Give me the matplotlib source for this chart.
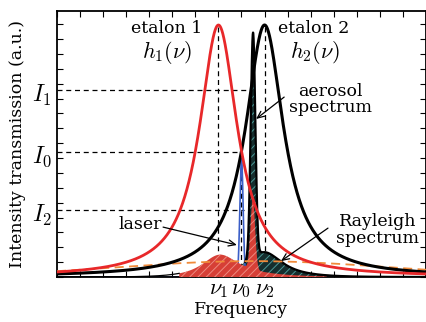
import numpy as np
import matplotlib
matplotlib.use("Agg")
import matplotlib.pyplot as plt
from matplotlib.ticker import MultipleLocator
from matplotlib.transforms import blended_transform_factory

plt.rcParams['font.family'] = 'DejaVu Serif'
plt.rcParams['mathtext.fontset'] = 'cm'
plt.rcParams['hatch.linewidth'] = 0.7

# frequencies (axis tick units)
nu_names = [r'$\nu_1$', r'$\nu_0$', r'$\nu_2$']
nu_values = [-1.0, 0.0, 1.0]
etalon_halfwidth = [1.0, 1.0]
# spectral components: centre, peak, width
aerosol = [0.5, 0.89, 0.1]
laser = [0.0, 0.47, 0.07]
rayleigh = [0.5, 0.063, 6.0]
rayleigh_filtered = [0.5, 0.10, 3.0]
fill_halfspan = 3.2
# intensity levels on the y axis
I_names = [r'$I_1$', r'$I_0$', r'$I_2$']
I_levels = [0.742, 0.496, 0.266]
I_ends = [0.28, 0.0, 0.1]

nu1, nu0, nu2 = nu_values
x = np.linspace(-8, 8, 4001)


def lorentz(c, w):
    return 1.0 / (1.0 + ((x - c) / w) ** 2)


def gauss(c, a, s):
    return a * np.exp(-(x - c) ** 2 / (2 * s ** 2))


h1 = lorentz(nu1, etalon_halfwidth[0])
h2 = lorentz(nu2, etalon_halfwidth[1])
A = gauss(*aerosol)
L = gauss(*laser)
R = gauss(*rayleigh)
Rf = gauss(*rayleigh_filtered)
win = np.abs(x - aerosol[0]) <= fill_halfspan

teal_top = h2 * Rf + A
red_top = h1 * (Rf + A)

fig = plt.figure(figsize=(4.27, 3.22), dpi=100)
ax = fig.add_axes([57 / 427, 45 / 322, 369 / 427, 266 / 322])

# guide lines
dash = dict(color='k', lw=0.9, ls=(0, (4, 3)), zorder=1)
ax.plot([nu1, nu1], [0, 1], **dash)
ax.plot([nu2, nu2], [0, 1], **dash)
ax.plot([nu0, nu0], [0, I_levels[1]], **dash)
for lev, xe in zip(I_levels, I_ends):
    ax.plot([-8, xe], [lev, lev], **dash)

ax.fill_between(x, 0, teal_top, where=win, facecolor='#152e2e', edgecolor='#4a9896',
                hatch='////', lw=0, zorder=2)
ax.plot(x, L, color='#3b5fc8', lw=1.2, zorder=2.5)
ax.fill_between(x, 0, red_top, where=win, facecolor='#d63f36', edgecolor='#ee8a80',
                hatch='////', lw=0, zorder=3)
left = x < aerosol[0] - fill_halfspan
ax.plot(x[left], red_top[left], color='k', lw=0.9, zorder=4)
right = x > aerosol[0] - 0.35
ax.plot(x[right], teal_top[right], color='k', lw=1.6, zorder=4)

ax.plot(x, R, color='#f08a3a', lw=1.3, ls=(0, (5, 3)), zorder=5)
ax.plot(x, h2, color='k', lw=2.2, zorder=6)
ax.plot(x, h1, color='#e8282a', lw=2.0, zorder=6.5)

# labels
ax.text(-3.23, 0.988, 'etalon 1', ha='center', va='center', fontsize=12.5)
ax.text(-3.23, 0.89, r'$h_1(\nu)$', ha='center', va='center', fontsize=16)
ax.text(3.14, 0.988, 'etalon 2', ha='center', va='center', fontsize=12.5)
ax.text(3.2, 0.89, r'$h_2(\nu)$', ha='center', va='center', fontsize=16)
ax.text(3.84, 0.705, 'aerosol\nspectrum', ha='center', va='center', fontsize=12.5,
        linespacing=0.95)
ax.text(-4.4, 0.21, 'laser', ha='center', va='center', fontsize=12.5)
ax.text(5.9, 0.187, 'Rayleigh\nspectrum', ha='center', va='center', fontsize=12.5,
        linespacing=0.95)

arrow = dict(arrowstyle='->,head_length=0.5,head_width=0.22', lw=0.9, color='k',
             shrinkA=0, shrinkB=0)
ax.annotate('', xy=(0.63, 0.627), xytext=(1.85, 0.714), arrowprops=arrow, zorder=7)
ax.annotate('', xy=(-0.2, 0.127), xytext=(-3.4, 0.198), arrowprops=arrow, zorder=7)
ax.annotate('', xy=(1.71, 0.063), xytext=(3.75, 0.194), arrowprops=arrow, zorder=7)

trans = blended_transform_factory(ax.transAxes, ax.transData)
for name, lev in zip(I_names, I_levels):
    ax.text(-0.015, lev - 0.02, name, transform=trans, ha='right', va='center', fontsize=17)

ax.set_xlim(-8, 8)
ax.set_ylim(0, 266 / 252)
ticks = np.arange(-8, 9)
ax.set_xticks(ticks)
ax.set_xticklabels([nu_names[nu_values.index(t)] if t in nu_values else '' for t in ticks],
                   fontsize=16)
ax.yaxis.set_major_locator(MultipleLocator(0.059))
ax.set_yticklabels([])
ax.tick_params(direction='in', top=True, right=True, length=4, width=0.8, pad=1)
for s in ax.spines.values():
    s.set_linewidth(1.3)

ax.set_xlabel('Frequency', fontsize=12.5)
ax.xaxis.set_label_coords(0.5, -0.092)
ax.set_ylabel('Intensity transmission (a.u.)', fontsize=12.5)
ax.yaxis.set_label_coords(-0.085, 0.5)

fig.savefig('out.png', dpi=100)
